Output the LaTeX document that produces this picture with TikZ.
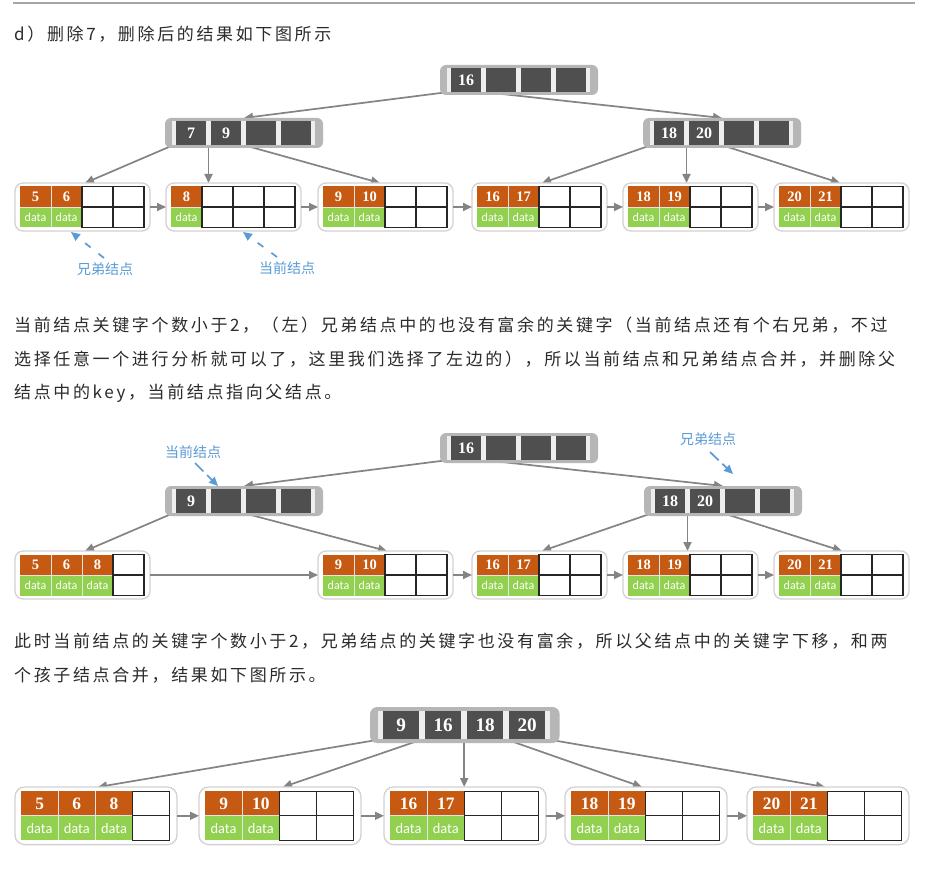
\documentclass[tikz,border=0pt]{standalone}
\usepackage{fontspec}
\setmainfont{Liberation Serif}
\newfontfamily\cjk{Noto Sans CJK SC}
\newfontfamily\cjkls[LetterSpace=15.5]{Noto Sans CJK SC}
\newfontfamily\numf{Liberation Serif}
\newfontfamily\dataf{Carlito}
\usetikzlibrary{arrows.meta,backgrounds,calc}
\definecolor{korange}{HTML}{C65A12}
\definecolor{kgreen}{HTML}{92D050}
\definecolor{idark}{HTML}{4F4F4F}
\definecolor{igray}{HTML}{B6B6B6}
\definecolor{ilight}{HTML}{EEEEEE}
\definecolor{lborder}{HTML}{D2D2D2}
\definecolor{agray}{HTML}{848484}
\definecolor{kblue}{HTML}{5B9BD5}
\definecolor{ktext}{HTML}{2B2B2B}
\tikzset{
  ibox/.style={fill=igray, draw=none, inner sep=0pt, outer sep=0pt},
  icell/.style={fill=idark, text=white, inner sep=0pt, outer sep=0pt, anchor=north west},
  lbox/.style={draw=lborder, line width=1.3pt, fill=white, inner sep=0pt, outer sep=0pt, anchor=north west},
  wcell/.style={draw=black!85, line width=1.1pt},
  lsep/.style={draw=white!80!gray, line width=0.7pt},
  lnum/.style={text=white, inner sep=0pt},
  ldat/.style={text=white, inner sep=0pt},
  lnk/.style={draw=agray, line width=1.7pt, -{Triangle[length=9pt,width=8pt]}},
  blu/.style={draw=kblue, line width=1.7pt, -{Triangle[length=9pt,width=8pt]}},
  ann/.style={text=kblue, font=\cjk\fontsize{14}{14}\selectfont, inner sep=0pt},
  para/.style={anchor=west, inner sep=0pt, text=ktext, font=\cjkls\fontsize{17}{17}\selectfont},
  rulec/.style={draw=gray!70, line width=1.2pt}
}
% internal node cell
\newcommand{\Bicell}[6]{%
  \node[icell, minimum width=\Bcw pt, minimum height=\Bch pt, font=\numf\bfseries\fontsize{\Bfs}{\Bfs}\selectfont] (#1-c#5) at ({#2+(11+35*#5)*#4},{#3+3*#4}) {#6};}
% internal node: name x y scale k1 k2 k3 k4
\newcommand{\Binode}[8]{%
  \pgfmathsetmacro{\Biw}{158*#4}\pgfmathsetmacro{\Bih}{30*#4}\pgfmathsetmacro{\Bir}{6*#4}%
  \pgfmathsetmacro{\Bcw}{30*#4}\pgfmathsetmacro{\Bch}{24*#4}\pgfmathsetmacro{\Bfs}{16*#4}%
  \node[ibox, minimum width=\Biw pt, minimum height=\Bih pt, rounded corners=\Bir pt, anchor=north west] (#1) at (#2,#3) {};
  \fill[ilight] ({#2+7*#4},{#3+3*#4}) rectangle ({#2+150*#4},{#3+27*#4});
  \Bicell{#1}{#2}{#3}{#4}{0}{#5}
  \Bicell{#1}{#2}{#3}{#4}{1}{#6}
  \Bicell{#1}{#2}{#3}{#4}{2}{#7}
  \Bicell{#1}{#2}{#3}{#4}{3}{#8}
  \foreach \Bi in {0,...,4}{\coordinate (#1-p\Bi) at ({#2+(8.5+35*\Bi)*#4},{#3+27*#4});}
}
% leaf: name x y scale nfilled list
\newcommand{\Bleaf}[6]{%
  \pgfmathsetmacro{\Blw}{135*#4}\pgfmathsetmacro{\Blh}{48*#4}\pgfmathsetmacro{\Blr}{8*#4}%
  \pgfmathsetmacro{\Bgx}{#2+5*#4}\pgfmathsetmacro{\Bgy}{#3+3.5*#4}%
  \pgfmathsetmacro{\Bcw}{31*#4}\pgfmathsetmacro{\Brh}{20.5*#4}%
  \pgfmathsetmacro{\Bnf}{14.5*#4}\pgfmathsetmacro{\Bdf}{12*#4}%
  \node[lbox, minimum width=\Blw pt, minimum height=\Blh pt, rounded corners=\Blr pt] (#1) at (#2,#3) {};
  \foreach \Bi/\Bk in {#6}{%
    \fill[korange] ({\Bgx+\Bi*\Bcw},\Bgy) rectangle ++(\Bcw,\Brh);
    \fill[kgreen] ({\Bgx+\Bi*\Bcw},{\Bgy+\Brh}) rectangle ++(\Bcw,\Brh);
    \node[lnum, font=\numf\bfseries\fontsize{\Bnf}{\Bnf}\selectfont] (#1-k\Bi) at ({\Bgx+(\Bi+0.5)*\Bcw},{\Bgy+0.5*\Brh}) {\Bk};
    \node[ldat, font=\dataf\fontsize{\Bdf}{\Bdf}\selectfont] (#1-d\Bi) at ({\Bgx+(\Bi+0.5)*\Bcw},{\Bgy+1.5*\Brh}) {data};
  }
  \draw[lsep] (\Bgx,{\Bgy+\Brh}) -- ++({#5*\Bcw},0);
  \foreach \Bi in {1,...,#5}{\draw[lsep] ({\Bgx+\Bi*\Bcw},\Bgy) -- ++(0,{2*\Brh});}
  \foreach \Bi in {#5,...,3}{%
    \draw[wcell] ({\Bgx+\Bi*\Bcw},\Bgy) rectangle ++(\Bcw,\Brh);
    \draw[wcell] ({\Bgx+\Bi*\Bcw},{\Bgy+\Brh}) rectangle ++(\Bcw,\Brh);
  }
}
\begin{document}
\begin{tikzpicture}[x=1pt,y=-1pt]
\useasboundingbox (0,0) rectangle (928,877);
\draw[rulec] (13,3) -- (915,3);
% texts
\node[para] (t0) at (14,34) {d）删除7，删除后的结果如下图所示};
\node[para] (p1a) at (14,325) {当前结点关键字个数小于2，（左）兄弟结点中的也没有富余的关键字（当前结点还有个右兄弟，不过};
\node[para] (p1b) at (14,359) {选择任意一个进行分析就可以了，这里我们选择了左边的），所以当前结点和兄弟结点合并，并删除父};
\node[para] (p1c) at (14,393) {结点中的key，当前结点指向父结点。};
\node[para] (p2a) at (14,641) {此时当前结点的关键字个数小于2，兄弟结点的关键字也没有富余，所以父结点中的关键字下移，和两};
\node[para] (p2b) at (14,675) {个孩子结点合并，结果如下图所示。};

% ---------- diagram 1 ----------
\Binode{R1}{440}{65}{1}{16}{}{}{}
\Binode{A1}{165}{118}{1}{7}{9}{}{}
\Binode{A2}{643}{118}{1}{18}{20}{}{}
\Bleaf{L1}{15}{183}{1}{2}{0/5,1/6}
\Bleaf{L2}{166}{183}{1}{1}{0/8}
\Bleaf{L3}{318}{183}{1}{2}{0/9,1/10}
\Bleaf{L4}{472}{183}{1}{2}{0/16,1/17}
\Bleaf{L5}{623}{183}{1}{2}{0/18,1/19}
\Bleaf{L6}{774}{183}{1}{2}{0/20,1/21}
\node[ann] (n1) at (105,269) {兄弟结点};
\node[ann] (n2) at (287,268) {当前结点};
\coordinate (n1s) at (104,258);
\coordinate (n1t) at (71,232);
\coordinate (n2s) at (277,257);
\coordinate (n2t) at (243,232);

% ---------- diagram 2 ----------
\Binode{R2}{440}{433}{1}{16}{}{}{}
\Binode{B1}{165}{486}{1}{9}{}{}{}
\Binode{B2}{644}{486}{1}{18}{20}{}{}
\Bleaf{M1}{15}{551}{1}{3}{0/5,1/6,2/8}
\Bleaf{M3}{318}{551}{1}{2}{0/9,1/10}
\Bleaf{M4}{472}{551}{1}{2}{0/16,1/17}
\Bleaf{M5}{623}{551}{1}{2}{0/18,1/19}
\Bleaf{M6}{774}{551}{1}{2}{0/20,1/21}
\node[ann] (n3) at (193,452) {当前结点};
\node[ann] (n4) at (708,439) {兄弟结点};
\coordinate (n3s) at (195,463);
\coordinate (n3t) at (218,486);
\coordinate (n4s) at (710,452);
\coordinate (n4t) at (733,474);

% ---------- diagram 3 ----------
\Binode{C}{370}{707}{1.2}{9}{16}{18}{20}
\Bleaf{N1}{15}{787}{1.2}{3}{0/5,1/6,2/8}
\Bleaf{N2}{199}{787}{1.2}{2}{0/9,1/10}
\Bleaf{N3}{384}{787}{1.2}{2}{0/16,1/17}
\Bleaf{N4}{565}{787}{1.2}{2}{0/18,1/19}
\Bleaf{N5}{747}{787}{1.2}{2}{0/20,1/21}

% ---------- connectors ----------
\begin{scope}[on background layer]
\fill[white] (0,0) rectangle (928,877);
\draw[lnk] (R1-p0) -- (A1.north);
\draw[lnk] (R1-p1) -- (A2.north);
\draw[lnk] (A1-p0) -- ($(L1.north west)+(70,0)$);
\draw[lnk] (A1-p1) -- (A1-p1 |- L2.north);
\draw[lnk] (A1-p2) -- ($(L3.north west)+(62,0)$);
\draw[lnk] (A2-p0) -- ($(L4.north west)+(70,0)$);
\draw[lnk] (A2-p1) -- (A2-p1 |- L5.north);
\draw[lnk] (A2-p2) -- ($(L6.north west)+(66,0)$);

\draw[lnk] (R2-p0) -- (B1.north);
\draw[lnk] (R2-p1) -- (B2.north);
\draw[lnk] (B1-p0) -- ($(M1.north west)+(70,0)$);
\draw[lnk] (B1-p2) -- ($(M3.north west)+(69,0)$);
\draw[lnk] (B2-p0) -- ($(M4.north west)+(70,0)$);
\draw[lnk] (B2-p1) -- (B2-p1 |- M5.north);
\draw[lnk] (B2-p2) -- ($(M6.north west)+(68,0)$);

\draw[lnk] (C-p0) -- ($(N1.north west)+(83,0)$);
\draw[lnk] (C-p1) -- ($(N2.north west)+(84,0)$);
\draw[lnk] (C-p2) -- (C-p2 |- N3.north);
\draw[lnk] (C-p3) -- ($(N4.north west)+(77,0)$);
\draw[lnk] (C-p4) -- ($(N5.north west)+(78,0)$);
\end{scope}
\draw[lnk] (L1.east) -- (L2.west);
\draw[lnk] (L2.east) -- (L3.west);
\draw[lnk] (L3.east) -- (L4.west);
\draw[lnk] (L4.east) -- (L5.west);
\draw[lnk] (L5.east) -- (L6.west);
\draw[lnk] (M1.east) -- (M3.west);
\draw[lnk] (M3.east) -- (M4.west);
\draw[lnk] (M4.east) -- (M5.west);
\draw[lnk] (M5.east) -- (M6.west);
\draw[lnk] (N1.east) -- (N2.west);
\draw[lnk] (N2.east) -- (N3.west);
\draw[lnk] (N3.east) -- (N4.west);
\draw[lnk] (N4.east) -- (N5.west);

\draw[blu, dash pattern=on 7pt off 10pt] (n1s) -- (n1t);
\draw[blu, dash pattern=on 7pt off 10pt] (n2s) -- (n2t);
\draw[blu, dash pattern=on 12pt off 5pt] (n3s) -- (n3t);
\draw[blu, dash pattern=on 12pt off 5pt] (n4s) -- (n4t);
\end{tikzpicture}
\end{document}
